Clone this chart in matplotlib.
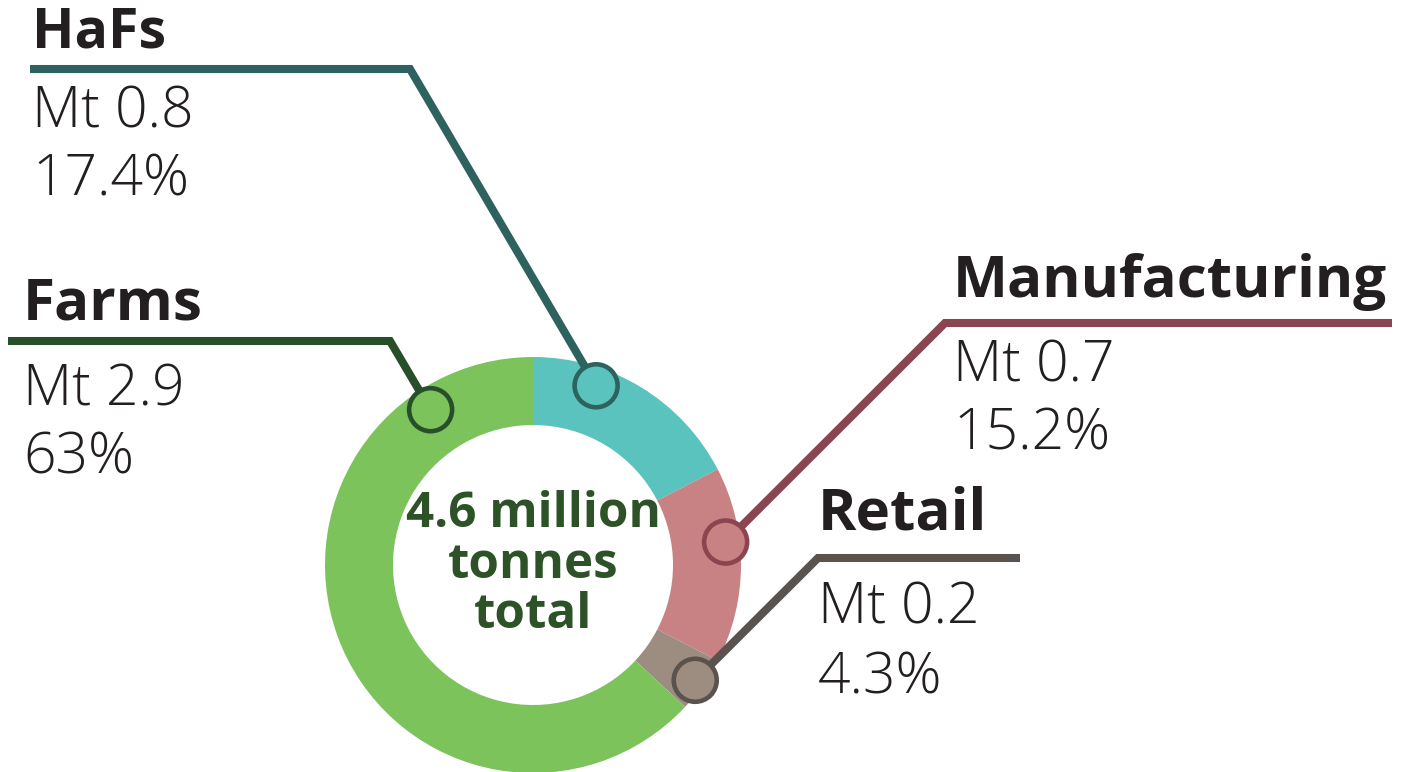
import matplotlib
matplotlib.use('Agg')
import matplotlib.pyplot as plt
from matplotlib.patches import Circle
import numpy as np

# data
sectors = ['HaFs', 'Manufacturing', 'Retail', 'Farms']
tonnes_mt = [0.8, 0.7, 0.2, 2.9]
shares = ['17.4%', '15.2%', '4.3%', '63%']
total_lines = ['4.6 million', 'tonnes', 'total']

ring_colors = ['#5bc3be', '#c98283', '#9c8d80', '#7bc35a']
line_colors = ['#2d625e', '#8b4550', '#5a524c', '#27502a']

W, H = 1409, 772
CX, CY = 533, 565
R_OUT, R_IN = 208, 140

plt.rcParams['font.family'] = ['Open Sans', 'DejaVu Sans']

fig = plt.figure(figsize=(W / 100, H / 100), dpi=100)
ax = fig.add_axes([0, 0, 1, 1])

# y axis runs downwards, so startangle -90 is the top and ccw in data is cw on screen
ax.pie(tonnes_mt, colors=ring_colors, startangle=-90, counterclock=True,
       radius=R_OUT, center=(CX, CY),
       wedgeprops=dict(width=R_OUT - R_IN, linewidth=0))
ax.set_xlim(0, W)
ax.set_ylim(H, 0)
ax.set_aspect('auto')
ax.axis('off')

for i, line in enumerate(total_lines):
    ax.text(CX, 527 + i * 50.5, line, ha='center', va='baseline', fontsize=35.5,
            fontweight='bold', color='#2d5228', zorder=5)

# leader layout: marker angle (deg, screen, from +x ccw), marker radius,
# elbow point, end of horizontal, label x, baselines
layout = {
    'HaFs': dict(ang=70.6, r=190, elbow=(410, 69), end=30, tx=32,
                 base=(47, 127, 195), hsize=40),
    'Manufacturing': dict(ang=6.8, r=194, elbow=(945, 323), end=1392, tx=953,
                          base=(297, 382, 450), hsize=42),
    'Retail': dict(ang=-35.4, r=199, elbow=(818, 558), end=1020, tx=818,
                   base=(530, 623, 693), hsize=42),
    'Farms': dict(ang=123.4, r=186, elbow=(390, 341), end=8, tx=23,
                  base=(320, 405, 473), hsize=42),
}

for name, mt, pct, rc, lc in zip(sectors, tonnes_mt, shares, ring_colors,
                                 line_colors):
    L = layout[name]
    a = np.deg2rad(L['ang'])
    mx = CX + L['r'] * np.cos(a)
    my = CY - L['r'] * np.sin(a)
    ex, ey = L['elbow']
    ax.plot([mx, ex, L['end']], [my, ey, ey], color=lc, lw=5.8,
            solid_capstyle='butt', solid_joinstyle='miter', zorder=3)
    ax.add_patch(Circle((mx, my), 21.5, facecolor=rc, edgecolor=lc, lw=3.3,
                        zorder=4))
    b1, b2, b3 = L['base']
    ax.text(L['tx'], b1, name, fontsize=L['hsize'], fontweight='bold',
            color='#231f20', va='baseline', ha='left')
    ax.text(L['tx'], b2, 'Mt %.1f' % mt, fontsize=41, fontweight='light',
            color='#231f20', va='baseline', ha='left')
    ax.text(L['tx'], b3, pct, fontsize=41, fontweight='light',
            color='#231f20', va='baseline', ha='left')

fig.savefig('out.png', dpi=100)
